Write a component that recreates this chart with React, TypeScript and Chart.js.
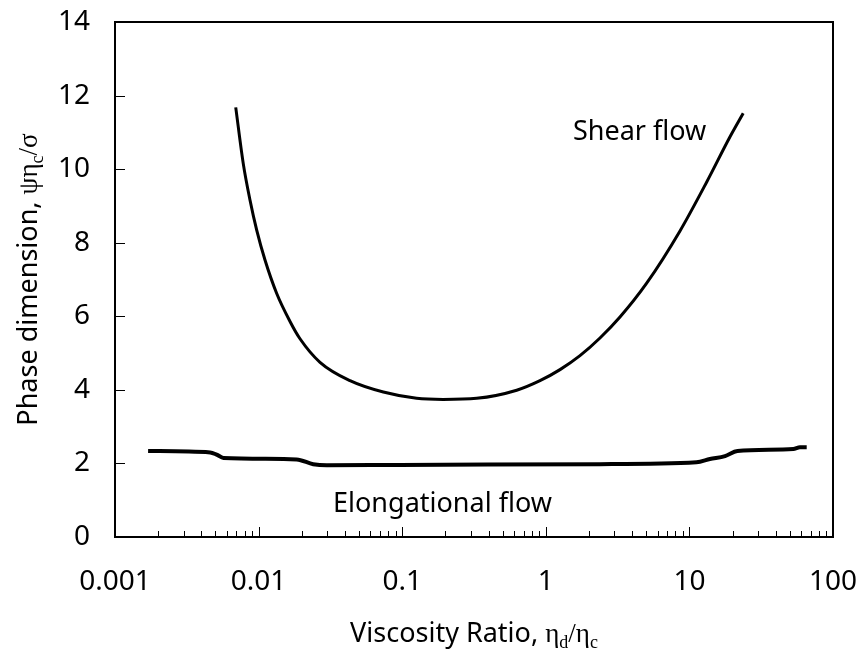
import { useEffect, useRef } from "react";
import { Chart, registerables } from "chart.js";
Chart.register(...registerables);

// Shear flow curve (viscosity ratio, phase dimension)
const shearX = [0.00693, 0.00782, 0.00871, 0.0097, 0.01108, 0.01337, 0.01655, 0.01942, 0.02677, 0.0433, 0.0739, 0.126, 0.193, 0.33, 0.627, 0.911, 1.256, 1.73, 2.384, 3.286, 5.04, 8.6, 13.2, 19.18, 23.7];
const shearY = [11.68, 10.15, 9.16, 8.34, 7.53, 6.62, 5.86, 5.39, 4.75, 4.25, 3.94, 3.77, 3.74, 3.77, 3.99, 4.25, 4.55, 4.93, 5.41, 5.98, 6.9, 8.32, 9.65, 10.88, 11.52];

// Elongational flow curve
const elongX = [0.0017, 0.0046, 0.0051, 0.0057, 0.0184, 0.024, 0.0298, 0.0967, 2.38, 11.2, 13.9, 17.7, 21.6, 52.9, 58.9, 65.6];
const elongY = [2.34, 2.3, 2.24, 2.15, 2.11, 1.98, 1.95, 1.96, 1.98, 2.03, 2.12, 2.2, 2.34, 2.39, 2.44, 2.44];

const xTickValues = [0.001, 0.01, 0.1, 1, 10, 100];
const xTickLabels = ["0.001", "0.01", "0.1", "1", "10", "100"];
const yTickValues = [0, 2, 4, 6, 8, 10, 12, 14];

const SANS = '"Noto Sans", sans-serif';
const SERIF = '"Liberation Serif", "DejaVu Serif", serif';

type Seg = { t: string; serif?: boolean; sub?: boolean };
const yTitle: Seg[] = [
  { t: "Phase dimension, " },
  { t: "ψη", serif: true },
  { t: "c", serif: true, sub: true },
  { t: "/σ", serif: true },
];
const xTitle: Seg[] = [
  { t: "Viscosity Ratio, " },
  { t: "η", serif: true },
  { t: "d", serif: true, sub: true },
  { t: "/η", serif: true },
  { t: "c", serif: true, sub: true },
];

function segFont(s: Seg) {
  if (s.sub) return `18px ${SERIF}`;
  if (s.serif) return `27px ${SERIF}`;
  return `27px ${SANS}`;
}
function measureSegs(ctx: CanvasRenderingContext2D, segs: Seg[]) {
  let w = 0;
  for (const s of segs) {
    ctx.font = segFont(s);
    w += ctx.measureText(s.t).width;
  }
  return w;
}
function drawSegs(ctx: CanvasRenderingContext2D, segs: Seg[], x: number, y: number) {
  let cx = x;
  for (const s of segs) {
    ctx.font = segFont(s);
    ctx.fillText(s.t, cx, y + (s.sub ? 6 : 0));
    cx += ctx.measureText(s.t).width;
  }
}

const decor = {
  id: "decor",
  afterDatasetsDraw(chart: any) {
    const { ctx, chartArea: a, scales } = chart;
    const xs = scales.x;
    const ys = scales.y;
    ctx.save();
    ctx.strokeStyle = "#000";
    ctx.lineWidth = 2;
    ctx.strokeRect(a.left, a.top, a.right - a.left, a.bottom - a.top);
    ctx.lineWidth = 1;
    ctx.beginPath();
    for (const v of yTickValues) {
      const py = Math.round(ys.getPixelForValue(v)) + 0.5;
      ctx.moveTo(a.left, py);
      ctx.lineTo(a.left + 10, py);
    }
    for (let i = 0; i < xTickValues.length; i++) {
      const dec = xTickValues[i];
      const px = Math.round(xs.getPixelForValue(dec)) + 0.5;
      ctx.moveTo(px, a.bottom);
      ctx.lineTo(px, a.bottom - 10);
      for (let k = 2; k <= 9; k++) {
        const v = dec * k;
        if (v >= xs.max) break;
        const mx = Math.round(xs.getPixelForValue(v)) + 0.5;
        ctx.moveTo(mx, a.bottom);
        ctx.lineTo(mx, a.bottom - 6);
      }
    }
    ctx.stroke();

    ctx.fillStyle = "#000";
    ctx.textAlign = "left";
    ctx.textBaseline = "alphabetic";
    ctx.font = `27px ${SANS}`;
    ctx.fillText("Shear flow", xs.getPixelForValue(1.545), ys.getPixelForValue(10.79));
    ctx.fillText("Elongational flow", xs.getPixelForValue(0.033), ys.getPixelForValue(0.69));

    // x title
    const xw = measureSegs(ctx, xTitle);
    drawSegs(ctx, xTitle, (a.left + a.right) / 2 - xw / 2, 642);

    // y title
    const yw = measureSegs(ctx, yTitle);
    ctx.save();
    ctx.translate(37, (a.top + a.bottom) / 2 + yw / 2);
    ctx.rotate(-Math.PI / 2);
    drawSegs(ctx, yTitle, 0, 0);
    ctx.restore();

    ctx.restore();
  },
};

export default function App() {
  const ref = useRef<HTMLCanvasElement | null>(null);
  useEffect(() => {
    if (!ref.current) return;
    const chart = new Chart(ref.current, {
      type: "line",
      data: {
        datasets: [
          {
            label: "Shear flow",
            data: shearX.map((x, i) => ({ x, y: shearY[i] })),
            borderColor: "#000",
            borderWidth: 3,
            pointRadius: 0,
            fill: false,
            cubicInterpolationMode: "monotone",
          },
          {
            label: "Elongational flow",
            data: elongX.map((x, i) => ({ x, y: elongY[i] })),
            borderColor: "#000",
            borderWidth: 4,
            pointRadius: 0,
            fill: false,
            cubicInterpolationMode: "monotone",
          },
        ],
      },
      options: {
        responsive: false,
        animation: false,
        events: [],
        layout: { padding: { top: 22, right: 26, left: 0, bottom: 0 } },
        plugins: { legend: { display: false }, tooltip: { enabled: false } },
        scales: {
          x: {
            type: "logarithmic",
            min: 0.001,
            max: 100,
            afterBuildTicks: (s: any) => {
              s.ticks = xTickValues.map((v) => ({ value: v }));
            },
            afterFit: (s: any) => {
              s.height = 116;
              s.paddingLeft = 0;
              s.paddingRight = 0;
            },
            ticks: {
              autoSkip: false,
              maxRotation: 0,
              minRotation: 0,
              padding: 28,
              color: "#000",
              font: { family: SANS, size: 28 },
              callback: (_v: any, i: number) => xTickLabels[i],
            },
            grid: { display: false, drawTicks: false },
            border: { display: false },
          },
          y: {
            type: "linear",
            min: 0,
            max: 14,
            afterBuildTicks: (s: any) => {
              s.ticks = yTickValues.map((v) => ({ value: v }));
            },
            afterFit: (s: any) => {
              s.width = 115;
              s.paddingTop = 0;
              s.paddingBottom = 0;
            },
            ticks: {
              padding: 25,
              color: "#000",
              font: { family: SANS, size: 28 },
            },
            grid: { display: false, drawTicks: false },
            border: { display: false },
          },
        },
      },
      plugins: [decor],
    } as any);
    return () => chart.destroy();
  }, []);
  return (
    <div style={{ position: "fixed", left: 0, top: 0, width: 859, height: 653 }}>
      <canvas ref={ref} width={859} height={653} style={{ display: "block" }} />
    </div>
  );
}
